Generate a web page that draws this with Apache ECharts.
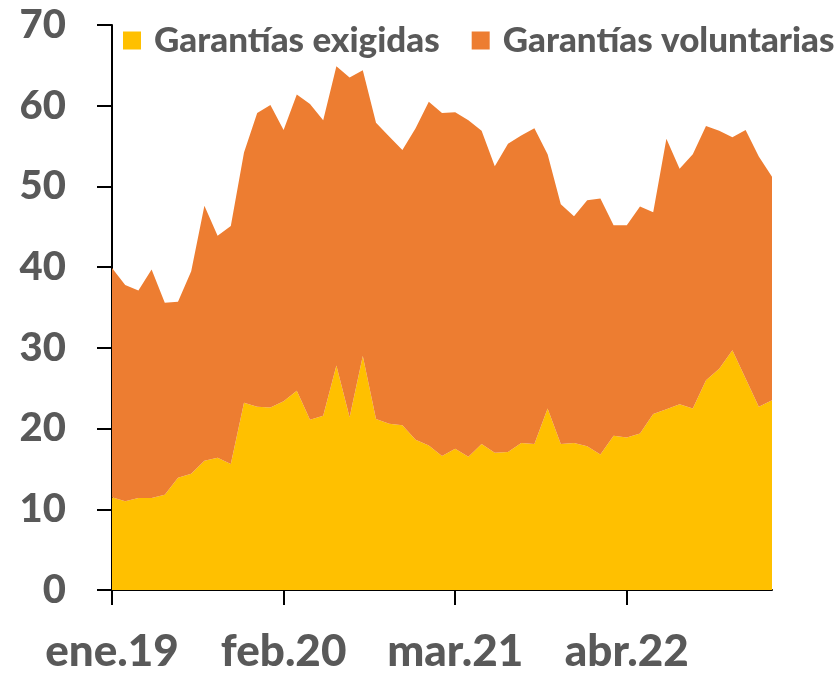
<!DOCTYPE html>
<html>
<head>
<meta charset="utf-8">
<script src="https://cdn.jsdelivr.net/npm/echarts@6/dist/echarts.min.js"></script>
<style>
  html, body { margin: 0; padding: 0; background: #fff; }
  #chart { width: 836px; height: 674px; }
</style>
</head>
<body>
<div id="chart"></div>
<script>
  // meses ene.19 - mar.23
  const meses = [
    'ene.19','feb.19','mar.19','abr.19','may.19','jun.19','jul.19','ago.19','sep.19','oct.19','nov.19','dic.19',
    'ene.20','feb.20','mar.20','abr.20','may.20','jun.20','jul.20','ago.20','sep.20','oct.20','nov.20','dic.20',
    'ene.21','feb.21','mar.21','abr.21','may.21','jun.21','jul.21','ago.21','sep.21','oct.21','nov.21','dic.21',
    'ene.22','feb.22','mar.22','abr.22','may.22','jun.22','jul.22','ago.22','sep.22','oct.22','nov.22','dic.22',
    'ene.23','feb.23','mar.23'
  ]

  const exigidas = [
    11.5, 11.0, 11.4, 11.4, 11.8, 13.9, 14.4, 16.0, 16.4, 15.6, 23.2, 22.7,
    22.6, 23.4, 24.7, 21.1, 21.6, 27.8, 21.4, 29.0, 21.2, 20.6, 20.4, 18.6,
    17.9, 16.6, 17.5, 16.5, 18.1, 17.0, 17.1, 18.2, 18.1, 22.5, 18.1, 18.2,
    17.8, 16.8, 19.1, 18.9, 19.4, 21.8, 22.4, 23.0, 22.5, 26.0, 27.4, 29.7,
    26.2, 22.7, 23.5
  ]

  const voluntarias = [
    28.4, 26.8, 25.7, 28.3, 23.8, 21.8, 25.1, 31.6, 27.5, 29.5, 31.0, 36.4,
    37.5, 33.6, 36.7, 39.1, 36.6, 37.1, 42.1, 35.4, 36.7, 35.6, 34.1, 38.6,
    42.6, 42.5, 41.7, 41.7, 38.8, 35.5, 38.2, 38.1, 39.1, 31.5, 29.7, 28.1,
    30.5, 31.7, 26.1, 26.3, 28.1, 25.0, 33.5, 29.2, 31.5, 31.5, 29.5, 26.4,
    30.8, 31.0, 27.7
  ]

  const gris = '#595959'
  const fuente = 'Lato, "DejaVu Sans", sans-serif'

  const chart = echarts.init(document.getElementById('chart'))

  const option = {
    animation: false,
    grid: { left: 112, right: 64, top: 25, bottom: 82 },
    legend: {
      top: 23,
      left: 123,
      width: 760,
      padding: 0,
      itemWidth: 18,
      itemHeight: 18,
      itemGap: 32,
      icon: 'rect',
      textStyle: {
        fontFamily: fuente,
        fontWeight: 900,
        fontSize: 35,
        color: gris,
        padding: [0, 0, 0, 8]
      },
      data: ['Garantías exigidas', 'Garantías voluntarias']
    },
    xAxis: {
      type: 'category',
      data: meses,
      boundaryGap: false,
      axisLine: { lineStyle: { color: '#000', width: 2 } },
      axisTick: { interval: 12, length: 15, lineStyle: { color: '#000', width: 2 } },
      axisLabel: {
        interval: 12,
        margin: 40,
        fontFamily: fuente,
        fontWeight: 900,
        fontSize: 44,
        color: gris
      },
      splitLine: { show: false }
    },
    yAxis: {
      type: 'value',
      min: 0,
      max: 70,
      interval: 10,
      axisLine: { show: true, lineStyle: { color: '#000', width: 2 } },
      axisTick: { show: true, length: 15, lineStyle: { color: '#000', width: 2 } },
      axisLabel: {
        margin: 46,
        fontFamily: fuente,
        fontWeight: 900,
        fontSize: 40,
        color: gris
      },
      splitLine: { show: false }
    },
    series: [
      {
        name: 'Garantías exigidas',
        type: 'line',
        stack: 'total',
        data: exigidas,
        showSymbol: false,
        lineStyle: { width: 0 },
        itemStyle: { color: '#FFC000' },
        areaStyle: { color: '#FFC000', opacity: 1 }
      },
      {
        name: 'Garantías voluntarias',
        type: 'line',
        stack: 'total',
        data: voluntarias,
        showSymbol: false,
        lineStyle: { width: 0 },
        itemStyle: { color: '#ED7D31' },
        areaStyle: { color: '#ED7D31', opacity: 1 }
      }
    ]
  }

  chart.setOption(option)
</script>
</body>
</html>
